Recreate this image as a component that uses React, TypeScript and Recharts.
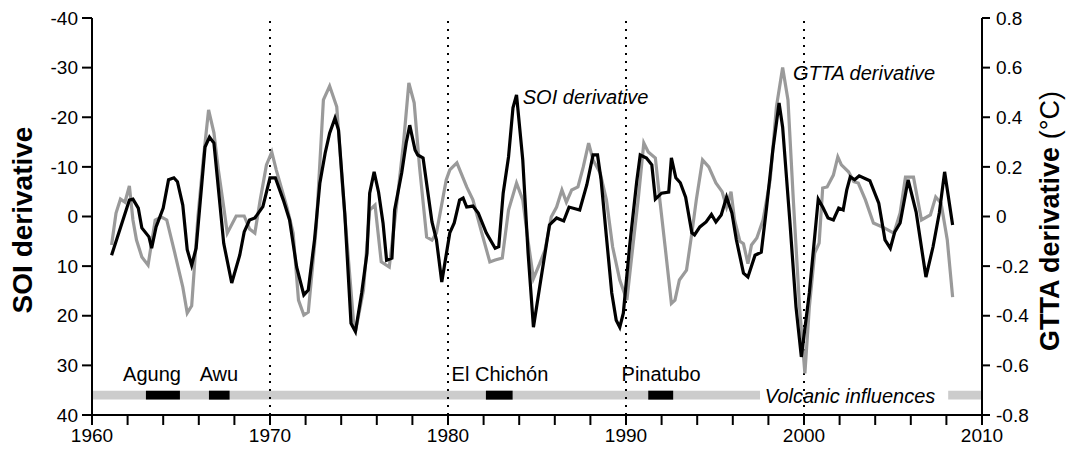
import { LineChart, Line, XAxis, YAxis, ReferenceLine, ReferenceArea, ReferenceDot } from "recharts";

// SOI derivative (left axis, reversed)
const soiYears = [
  1961.1, 1962.1, 1962.3, 1962.6, 1962.8, 1963.2, 1963.35, 1963.6, 1964.0, 1964.3, 1964.6, 1964.8,
  1965.1, 1965.35, 1965.6, 1965.85, 1966.35, 1966.6, 1966.85, 1967.4, 1967.85, 1968.3, 1968.55, 1968.85,
  1969.15, 1969.6, 1970.0, 1970.3, 1970.75, 1971.1, 1971.5, 1971.9, 1972.15, 1972.5, 1972.8, 1973.1,
  1973.35, 1973.65, 1973.85, 1974.2, 1974.55, 1974.8, 1975.15, 1975.45, 1975.6, 1975.85, 1976.1, 1976.35,
  1976.55, 1976.85, 1977.0, 1977.4, 1977.65, 1977.85, 1978.15, 1978.3, 1978.6, 1979.1, 1979.35, 1979.65,
  1980.1, 1980.35, 1980.65, 1980.85, 1981.05, 1981.4, 1981.7, 1982.15, 1982.65, 1982.85, 1983.1, 1983.4,
  1983.65, 1983.85, 1984.2, 1984.5, 1984.8, 1985.15, 1985.45, 1985.7, 1986.1, 1986.5, 1986.8, 1987.4,
  1987.8, 1988.15, 1988.4, 1988.6, 1988.9, 1989.2, 1989.45, 1989.65, 1989.85, 1990.2, 1990.6, 1990.8,
  1991.15, 1991.45, 1991.65, 1992.0, 1992.4, 1992.55, 1992.8, 1993.05, 1993.35, 1993.7, 1993.85, 1994.15,
  1994.5, 1994.8, 1995.05, 1995.35, 1995.65, 1995.95, 1996.2, 1996.6, 1996.85, 1997.25, 1997.6, 1997.9,
  1998.25, 1998.6, 1998.8, 1999.2, 1999.55, 1999.85, 2000.3, 2000.8, 2001.05, 2001.35, 2001.65, 2001.95,
  2002.2, 2002.4, 2002.6, 2002.85, 2003.1, 2003.7, 2004.2, 2004.55, 2004.85, 2005.1, 2005.4, 2005.85,
  2006.3, 2006.85, 2007.25, 2007.6, 2007.9, 2008.35,
];
const soiValues = [
  7.8, -3.3, -3.5, -1.7, 2.3, 4.1, 6.4, 2.1, -1.7, -7.4, -7.8, -7.0,
  -2.3, 6.7, 9.8, 6.4, -14, -16, -14.8, 5.4, 13.4, 7.8, 3.1, 0.7,
  0.3, -2, -7.8, -7.8, -3.3, 0.7, 10.2, 15.8, 14.8, 4.7, -6.7, -12.8,
  -16.8, -19.8, -17.4, -0.7, 21.5, 23.2, 15.4, 7.4, -4.7, -9, -4.9, 1.3,
  8.8, 8.4, -1.3, -8.8, -14.8, -18.4, -13.4, -12.4, -11.8, 1.1, 4.7, 13.2,
  3.3, 1.3, -3.3, -3.7, -1.9, -2.1, -0.7, 3.3, 6.4, 6.1, -4.7, -12,
  -21.9, -24.5, -11.4, 7.4, 22.3, 14.2, 7.4, 1.7, 0.3, 0.9, -1.9, -1.3,
  -6.4, -12.4, -12.4, -7.4, 4.1, 15.4, 20.9, 22.3, 19.5, 6.1, -7, -12.4,
  -11.8, -10.4, -3.5, -4.7, -4.9, -11.8, -7.8, -6.8, -3.9, 3.3, 3.7, 2.1,
  1.1, -0.4, 1.1, -0.3, -3.9, -0.7, 4.7, 11.4, 12.2, 7.8, 7.2, -1.9,
  -13.4, -22.9, -18, 0.7, 18.2, 28.3, 15.4, -3.5, -1.9, 0.3, 0.7, -1.7,
  -1.3, -5.3, -8, -7.4, -8.2, -7.2, -2.7, 4.7, 6.4, 3.1, 1.3, -7.4,
  -0.9, 12.2, 6.1, -0.7, -9, 1.7,
];

// GTTA derivative (right axis, °C)
const gttaYears = [
  1961.1, 1961.35, 1961.6, 1961.85, 1962.1, 1962.3, 1962.5, 1962.8, 1963.15, 1963.55, 1963.9, 1964.2,
  1964.65, 1965.1, 1965.35, 1965.6, 1965.95, 1966.25, 1966.55, 1966.85, 1967.1, 1967.4, 1967.6, 1968.1,
  1968.55, 1968.85, 1969.15, 1969.45, 1969.8, 1970.1, 1970.35, 1970.95, 1971.3, 1971.6, 1971.9, 1972.15,
  1972.6, 1973.0, 1973.35, 1973.75, 1974.1, 1974.7, 1974.85, 1975.25, 1975.6, 1975.9, 1976.25, 1976.7,
  1977.1, 1977.5, 1977.8, 1978.1, 1978.4, 1978.8, 1979.1, 1979.35, 1979.9, 1980.1, 1980.5, 1981.05,
  1981.4, 1981.9, 1982.35, 1982.65, 1983.05, 1983.4, 1983.85, 1984.2, 1984.5, 1984.8, 1985.15, 1985.45,
  1985.8, 1986.1, 1986.4, 1986.65, 1986.95, 1987.3, 1987.6, 1987.9, 1988.15, 1988.55, 1988.9, 1989.25,
  1989.65, 1990.05, 1990.3, 1990.7, 1991.0, 1991.25, 1991.65, 1991.9, 1992.2, 1992.55, 1992.75, 1993.0,
  1993.4, 1993.7, 1993.95, 1994.3, 1994.65, 1995.05, 1995.4, 1995.65, 1995.9, 1996.1, 1996.4, 1996.6,
  1996.85, 1997.05, 1997.35, 1997.7, 1998.1, 1998.45, 1998.8, 1999.1, 1999.4, 1999.75, 2000.05, 2000.3,
  2000.6, 2000.85, 2001.05, 2001.3, 2001.65, 2001.9, 2002.1, 2002.5, 2002.8, 2003.05, 2003.45, 2003.9,
  2004.4, 2005.05, 2005.4, 2005.7, 2006.15, 2006.6, 2007.1, 2007.4, 2007.7, 2008.05, 2008.35,
];
const gttaValues = [
  -0.115, 0.014, 0.07, 0.058, 0.123, -0.014, -0.095, -0.163, -0.196, -0.014, -0.002, -0.014,
  -0.147, -0.284, -0.389, -0.36, -0.002, 0.228, 0.43, 0.337, 0.188, 0.038, -0.067, 0.002,
  0.002, -0.05, -0.067, 0.067, 0.208, 0.26, 0.188, 0.038, -0.067, -0.337, -0.397, -0.385,
  -0.042, 0.47, 0.526, 0.442, 0.095, -0.43, -0.446, -0.296, 0.026, 0.046, -0.183, -0.204,
  0.038, 0.296, 0.538, 0.458, 0.2, -0.083, -0.095, -0.067, 0.147, 0.188, 0.216, 0.119,
  0.067, -0.067, -0.183, -0.175, -0.167, 0.026, 0.135, 0.067, -0.1, -0.25, -0.19, -0.135,
  -0.002, 0.038, 0.107, 0.058, 0.107, 0.119, 0.2, 0.296, 0.228, 0.175, 0.067, -0.123,
  -0.256, -0.337, -0.175, 0.079, 0.296, 0.26, 0.236, 0.067, -0.123, -0.35, -0.337, -0.256,
  -0.216, -0.067, 0.067, 0.228, 0.2, 0.135, 0.1, 0.038, 0.1, -0.014, -0.1, -0.11,
  -0.19, -0.115, -0.087, -0.014, 0.147, 0.442, 0.6, 0.47, 0.067, -0.365, -0.632, -0.365,
  -0.147, -0.107, 0.115, 0.119, 0.167, 0.24, 0.208, 0.18, 0.14, 0.135, 0.067, -0.026,
  -0.042, -0.067, 0.014, 0.159, 0.159, -0.014, 0.006, 0.079, 0.054, -0.095, -0.325,
];

const xTicks = [
  1960, 1962, 1964, 1966, 1968, 1970, 1972, 1974, 1976, 1978, 1980, 1982, 1984, 1986, 1988, 1990,
  1992, 1994, 1996, 1998, 2000, 2002, 2004, 2006, 2008, 2010,
];
const soiTicks = [-40, -30, -20, -10, 0, 10, 20, 30, 40];
const gttaTicks = [-0.8, -0.6, -0.4, -0.2, 0, 0.2, 0.4, 0.6, 0.8];
const decades = [1970, 1980, 1990, 2000];

// volcanic influences strip
const bandStart = [1960, 2008.1];
const bandEnd = [1997.53, 2010];
const volcanoNames = ["Agung", "Awu", "El Chichón", "Pinatubo"];
const volcanoStart = [1963.03, 1966.57, 1982.13, 1991.25];
const volcanoEnd = [1964.94, 1967.73, 1983.63, 1992.65];
const volcanoLabelYear = [1963.37, 1967.13, 1982.92, 1991.97];

const soiData = soiYears.map((year, i) => ({ year, v: soiValues[i] }));
const gttaData = gttaYears.map((year, i) => ({ year, v: gttaValues[i] }));

const FONT = '"Liberation Sans", Arial, Helvetica, sans-serif';
const BAND_LO = 35.1;
const BAND_HI = 36.9;

const note =
  (text: string, anchor: "start" | "middle", italic: boolean) =>
  (props: any) => {
    const vb = props.viewBox || {};
    const x = (vb.x ?? 0) + (vb.width ?? 0) / 2;
    const y = (vb.y ?? 0) + (vb.height ?? 0) / 2;
    return (
      <text
        x={x}
        y={y}
        dy="0.35em"
        textAnchor={anchor}
        fontFamily={FONT}
        fontSize={20}
        fontStyle={italic ? "italic" : "normal"}
        fill="#000"
      >
        {text}
      </text>
    );
  };

const leftTitle = (props: any) => {
  const vb = props.viewBox || {};
  const x = vb.x + 22;
  const y = vb.y + vb.height / 2 + 3.5;
  return (
    <text
      x={x}
      y={y}
      transform={`rotate(-90, ${x}, ${y})`}
      textAnchor="middle"
      dominantBaseline="central"
      fontFamily={FONT}
      fontSize={28}
      fontWeight="bold"
      fill="#000"
    >
      SOI derivative
    </text>
  );
};

const rightTitle = (props: any) => {
  const vb = props.viewBox || {};
  const x = vb.x + 68;
  const y = vb.y + vb.height / 2 + 4.5;
  return (
    <text
      x={x}
      y={y}
      transform={`rotate(-90, ${x}, ${y})`}
      textAnchor="middle"
      dominantBaseline="central"
      fontFamily={FONT}
      fontSize={27}
      fill="#000"
    >
      <tspan fontWeight="bold">GTTA derivative</tspan>
      <tspan> (°C)</tspan>
    </text>
  );
};

const tickStyle = { fill: "#000", fontSize: 19, fontFamily: FONT };
const axisStroke = { stroke: "#000", strokeWidth: 2 };

export default function App() {
  return (
    <div style={{ position: "absolute", left: 0, top: 0, background: "#fff" }}>
      <LineChart width={1068} height={450} margin={{ top: 18, right: 0, bottom: 0, left: 0 }}>
        <XAxis
          dataKey="year"
          type="number"
          domain={[1960, 2010]}
          ticks={xTicks}
          interval={0}
          allowDataOverflow
          tickFormatter={(v: number) => (v % 10 === 0 ? String(v) : "")}
          tickSize={10}
          tickMargin={4}
          height={35}
          axisLine={axisStroke}
          tickLine={axisStroke}
          tick={tickStyle}
        />
        <YAxis
          yAxisId="soi"
          domain={[-40, 40]}
          reversed
          ticks={soiTicks}
          interval={0}
          allowDataOverflow
          tickSize={10}
          tickMargin={4}
          width={92}
          axisLine={axisStroke}
          tickLine={axisStroke}
          tick={tickStyle}
          label={{ content: leftTitle }}
        />
        <YAxis
          yAxisId="gtta"
          orientation="right"
          domain={[-0.8, 0.8]}
          ticks={gttaTicks}
          interval={0}
          allowDataOverflow
          tickFormatter={(v: number) => (Math.abs(v) < 1e-9 ? "0" : v.toFixed(1))}
          tickSize={8}
          tickMargin={6}
          width={86}
          axisLine={axisStroke}
          tickLine={axisStroke}
          tick={tickStyle}
          label={{ content: rightTitle }}
        />

        {bandStart.map((s, i) => (
          <ReferenceArea
            key={`band-${i}`}
            yAxisId="soi"
            x1={s}
            x2={bandEnd[i]}
            y1={BAND_LO}
            y2={BAND_HI}
            fill="#cccccc"
            fillOpacity={1}
            stroke="none"
          />
        ))}
        {volcanoStart.map((s, i) => (
          <ReferenceArea
            key={`volc-${i}`}
            yAxisId="soi"
            x1={s}
            x2={volcanoEnd[i]}
            y1={BAND_LO}
            y2={BAND_HI}
            fill="#000"
            fillOpacity={1}
            stroke="none"
          />
        ))}

        {decades.map((d) => (
          <ReferenceLine
            key={`dec-${d}`}
            yAxisId="soi"
            x={d}
            stroke="#000"
            strokeWidth={2}
            strokeDasharray="2 6"
          />
        ))}

        <Line
          yAxisId="gtta"
          data={gttaData}
          dataKey="v"
          type="linear"
          stroke="#9a9a9a"
          strokeWidth={3.2}
          dot={false}
          activeDot={false}
          isAnimationActive={false}
        />
        <Line
          yAxisId="soi"
          data={soiData}
          dataKey="v"
          type="linear"
          stroke="#000"
          strokeWidth={3.2}
          dot={false}
          activeDot={false}
          isAnimationActive={false}
        />

        {volcanoNames.map((name, i) => (
          <ReferenceDot
            key={`vl-${i}`}
            yAxisId="soi"
            x={volcanoLabelYear[i]}
            y={31.75}
            r={0}
            fill="none"
            stroke="none"
            label={{ content: note(name, "middle", false) }}
          />
        ))}
        <ReferenceDot
          yAxisId="soi"
          x={1997.8}
          y={36.2}
          r={0}
          fill="none"
          stroke="none"
          label={{ content: note("Volcanic influences", "start", true) }}
        />
        <ReferenceDot
          yAxisId="soi"
          x={1984.2}
          y={-24.1}
          r={0}
          fill="none"
          stroke="none"
          label={{ content: note("SOI derivative", "start", true) }}
        />
        <ReferenceDot
          yAxisId="soi"
          x={1999.38}
          y={-28.9}
          r={0}
          fill="none"
          stroke="none"
          label={{ content: note("GTTA derivative", "start", true) }}
        />
      </LineChart>
    </div>
  );
}
